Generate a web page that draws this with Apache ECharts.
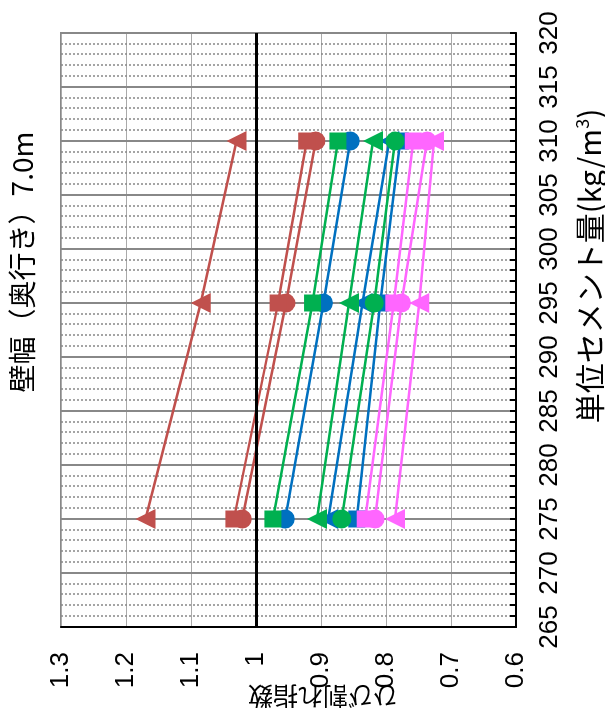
<!DOCTYPE html>
<html>
<head>
<meta charset="utf-8">
<script src="https://cdn.jsdelivr.net/npm/echarts@6/dist/echarts.min.js"></script>
<style>
html,body{margin:0;padding:0;width:605px;height:708px;overflow:hidden;background:#fff;}
#c{position:absolute;left:0;top:0;width:708px;height:605px;transform-origin:0 0;transform:translateY(708px) rotate(-90deg);}
</style>
</head>
<body>
<div id="c"></div>
<script>
// Unit cement amount (kg/m3) – x values
var cement = [275, 295, 310];
// Crack index values per series
var redTriangle   = [1.170, 1.085, 1.030];
var redSquare     = [1.034, 0.966, 0.922];
var redCircle     = [1.021, 0.954, 0.908];
var greenSquare   = [0.974, 0.913, 0.874];
var greenTriangle = [0.906, 0.857, 0.820];
var greenCircle   = [0.868, 0.818, 0.786];
var blueCircle    = [0.955, 0.896, 0.855];
var blueTriangle  = [0.889, 0.836, 0.795];
var blueSquare    = [0.845, 0.809, 0.778];
var magSquare     = [0.832, 0.788, 0.758];
var magCircle     = [0.817, 0.776, 0.737];
var magTriangle   = [0.786, 0.749, 0.726];

var titleText = '壁幅（奥行き）7.0m';
var xName = '単位セメント量(kg/m{sup|3})';
var yName = 'ひび割れ指数';

var RED = '#C0504D', GREEN = '#00B050', BLUE = '#0070C0', MAG = '#FF66FF';

function pts(vals){ return cement.map(function(c,i){ return [c, vals[i]]; }); }
function mk(vals, color, symbol, size){
  return {type:'line', data: pts(vals), symbol: symbol, symbolSize: size,
    showSymbol:true, animation:false, silent:true,
    lineStyle:{color:color, width:2.5}, itemStyle:{color:color}};
}
var series = [
  mk(blueCircle, BLUE, 'circle', 19),
  mk(blueTriangle, BLUE, 'triangle', 20),
  mk(blueSquare, BLUE, 'rect', 17),
  mk(greenCircle, GREEN, 'circle', 19),
  mk(greenTriangle, GREEN, 'triangle', 20),
  mk(greenSquare, GREEN, 'rect', 17),
  mk(redCircle, RED, 'circle', 19),
  mk(redTriangle, RED, 'triangle', 20),
  mk(redSquare, RED, 'rect', 17),
  mk(magTriangle, MAG, 'triangle', 20),
  mk(magCircle, MAG, 'circle', 19),
  mk(magSquare, MAG, 'rect', 17)
];
series[0].markLine = {silent:true, symbol:'none', label:{show:false},
  lineStyle:{color:'#000', width:3, type:'solid'}, data:[{yAxis:1}]};

var chart = echarts.init(document.getElementById('c'), null, {renderer:'canvas'});
chart.setOption({
  animation:false,
  backgroundColor:'#fff',
  grid:{left:81, right:33, top:61, bottom:89, show:true, borderColor:'#888', borderWidth:2},
  xAxis:{type:'value', min:265, max:320, interval:5, position:'bottom',
    axisLine:{show:true, onZero:false, lineStyle:{color:'#000', width:2}},
    axisTick:{show:true, inside:true, length:6, lineStyle:{color:'#000', width:2}},
    minorTick:{show:true, splitNumber:5, length:6, lineStyle:{color:'#000', width:2}},
    splitLine:{show:true, lineStyle:{color:'#888', width:2}},
    minorSplitLine:{show:true, lineStyle:{color:'#888', width:1.5, type:[2,2]}},
    axisLabel:{fontSize:26, color:'#000', margin:21, fontFamily:'Liberation Sans, Arial'}
  },
  yAxis:{type:'value', min:0.6, max:1.3, interval:0.1,
    axisLine:{show:true, onZero:false, lineStyle:{color:'#000', width:2}},
    axisTick:{show:false},
    splitLine:{show:true, lineStyle:{color:'#aaa', width:1}},
    axisLabel:{fontSize:26, color:'#000', margin:25, fontFamily:'Liberation Sans, Arial',
      formatter:function(v){ return String(Math.round(v*10)/10); }}
  },
  graphic:[
    {type:'text', x:446, y:22, style:{text:titleText, fontSize:28, fill:'#000',
      fontFamily:'Noto Sans CJK JP', align:'center', verticalAlign:'middle'}},
    {type:'text', x:442, y:590, style:{text:xName, fontSize:30, fill:'#000',
      fontFamily:'Noto Sans CJK JP', align:'center', verticalAlign:'middle',
      rich:{sup:{fontSize:18, verticalAlign:'top', padding:[0,0,16,0], fontFamily:'Noto Sans CJK JP'}}}},
    {type:'text', x:11, y:323, rotation:Math.PI/2, style:{text:yName, fontSize:25, fill:'#000',
      fontFamily:'Noto Sans CJK JP', align:'center', verticalAlign:'middle'}}
  ],
  series: series
});
</script>
</body>
</html>
